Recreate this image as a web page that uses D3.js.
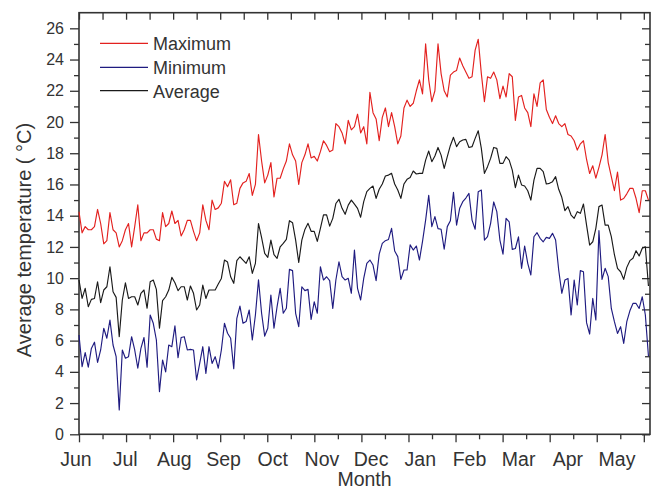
<!DOCTYPE html>
<html>
<head>
<meta charset="utf-8">
<script src="https://cdn.jsdelivr.net/npm/d3@7"></script>
<style>
  body { margin: 0; background: #fff; }
  svg { display: block; }
  text { font-family: "Liberation Sans", Arial, sans-serif; fill: #333; }
</style>
</head>
<body>
<svg id="chart" width="651" height="490"></svg>
<script>
// Month labels along the bottom axis (June through May)
const months = ["Jun", "Jul", "Aug", "Sep", "Oct", "Nov", "Dec", "Jan", "Feb", "Mar", "Apr", "May"];
// Temperature ticks on the vertical axis
const yTickValues = [0, 2, 4, 6, 8, 10, 12, 14, 16, 18, 20, 22, 24, 26];
// Readings are taken every two days, starting on 1 June
const dayStep = 2;

// Daily maximum temperature (°C)
const maximum = [
  14.25, 12.9, 13.3, 13.1, 13.1, 13.3, 14.4, 13.5, 12.2, 12.4,
  14.2, 13.1, 12.9, 12.0, 12.4, 13.1, 13.5, 12.0, 13.3, 14.7,
  12.4, 12.9, 12.9, 13.1, 13.1, 12.5, 12.4, 14.2, 13.3, 13.5,
  14.3, 13.5, 13.7, 12.7, 13.1, 13.7, 13.7, 13.0, 12.4, 12.9,
  14.7, 13.7, 13.1, 15.0, 14.4, 14.5, 14.8, 16.2, 15.85, 16.3,
  14.7, 14.8, 15.75, 16.1, 16.2, 16.7, 15.3, 16.0, 19.2, 17.5,
  16.1, 16.6, 17.4, 15.2, 16.4, 16.4, 17.0, 17.5, 18.6, 17.9,
  17.5, 16.0, 17.4, 17.9, 18.6, 17.7, 17.8, 17.5, 18.1, 18.8,
  18.5, 18.1, 18.2, 19.9, 19.7, 19.3, 18.6, 20.1, 19.5, 19.7,
  20.5, 19.3, 19.7, 18.6, 21.9, 20.6, 20.2, 18.8, 20.3, 20.9,
  19.7, 20.6, 19.7, 18.6, 19.1, 20.9, 21.4, 21.0, 21.2, 22.0,
  22.7, 21.8, 25.0, 22.7, 21.3, 22.0, 25.0, 23.1, 22.0, 21.6,
  23.0, 23.2, 23.3, 24.1, 23.6, 23.2, 22.8, 22.9, 24.6, 25.3,
  23.1, 21.3, 22.9, 22.8, 23.2, 22.7, 21.5, 22.3, 21.6, 23.1,
  22.9, 20.1, 21.6, 21.7, 20.9, 20.6, 19.7, 21.8, 21.0, 22.5,
  22.7, 20.8, 20.3, 19.9, 20.4, 19.9, 19.7, 19.9, 19.2, 19.1,
  18.8, 18.2, 18.6, 18.8, 17.6, 16.7, 17.2, 16.4, 17.1, 17.9,
  19.2, 17.4, 16.5, 15.6, 16.8, 15.0, 15.1, 15.4, 15.75, 15.75,
  15.1, 14.2, 15.6, 15.6, 15.0
];

// Daily minimum temperature (°C)
const minimum = [
  6.36, 4.33, 5.23, 4.3, 5.5, 5.9, 4.6, 5.4, 6.79, 6.15,
  7.31, 5.72, 4.97, 1.56, 5.4, 4.87, 4.97, 6.25, 5.4, 4.23,
  5.5, 6.2, 4.3, 7.64, 7.11, 6.04, 2.73, 4.76, 4.0, 5.72,
  5.61, 6.94, 4.9, 6.2, 6.25, 5.4, 5.44, 5.4, 3.48, 4.54,
  5.61, 3.9, 5.61, 4.54, 4.97, 4.23, 5.4, 7.11, 6.47, 6.15,
  4.2, 7.43, 8.21, 7.11, 7.22, 7.96, 6.04, 7.64, 9.9, 7.75,
  6.29, 6.79, 8.92, 6.79, 8.17, 9.35, 7.75, 8.07, 10.56, 10.48,
  7.75, 6.89, 9.45, 9.2, 9.28, 7.36, 8.49, 7.75, 10.73, 9.88,
  10.09, 9.84, 8.06, 9.88, 11.05, 10.1, 9.88, 9.99, 9.03, 11.8,
  9.35, 8.6, 9.99, 10.95, 11.16, 10.84, 9.84, 11.54, 12.23, 12.4,
  12.48, 13.19, 11.74, 11.38, 9.92, 10.52, 10.52, 12.13, 11.8, 12.06,
  11.16, 12.36, 13.72, 15.3, 13.3, 13.94, 13.17, 13.13, 11.85, 13.3,
  13.68, 15.5, 13.4, 14.47, 14.9, 15.13, 15.43, 13.72, 13.13, 15.54,
  15.64, 12.44, 12.66, 13.51, 14.88, 14.26, 12.44, 11.54, 13.83, 13.61,
  11.84, 11.9, 12.65, 10.63, 12.06, 10.95, 10.2, 12.65, 12.91, 12.55,
  12.33, 12.61, 12.55, 12.87, 12.44, 10.52, 9.03, 9.88, 9.98, 7.64,
  9.88, 8.28, 10.48, 10.41, 7.15, 6.42, 8.7, 7.32, 13.04, 9.92,
  10.63, 10.1, 8.06, 7.21, 6.46, 6.89, 5.82, 7.21, 7.91, 8.38,
  8.38, 8.06, 8.81, 7.64, 5.0
];

// Daily average temperature (°C)
const average = [
  9.88, 8.7, 9.35, 8.17, 8.64, 8.7, 9.77, 8.43, 9.24, 9.45,
  10.73, 9.13, 8.77, 6.25, 8.6, 9.7, 8.7, 8.81, 8.81, 8.28,
  9.03, 9.24, 8.07, 9.77, 9.88, 9.28, 6.79, 8.56, 8.81, 9.24,
  10.05, 9.71, 9.2, 9.45, 9.45, 8.6, 9.5, 9.03, 7.96, 8.28,
  9.56, 8.7, 9.24, 9.24, 9.24, 9.62, 9.98, 11.16, 11.03, 10.09,
  9.67, 11.12, 11.37, 11.16, 10.95, 11.37, 10.31, 10.95, 13.5, 12.6,
  11.59, 11.33, 12.44, 11.5, 11.27, 12.01, 12.23, 12.48, 13.68, 13.55,
  12.44, 11.0, 12.44, 13.12, 13.51, 13.0, 13.0, 12.36, 13.19, 14.05,
  14.05, 13.33, 13.83, 14.78, 15.05, 14.47, 14.09, 14.68, 15.0, 14.74,
  14.47, 13.9, 14.9, 15.54, 15.75, 15.9, 15.11, 15.69, 16.03, 16.54,
  16.6, 16.71, 16.03, 15.65, 15.11, 16.03, 16.33, 16.45, 16.86, 16.67,
  16.71, 16.71, 17.56, 18.14, 17.46, 17.82, 18.37, 17.88, 17.03, 17.78,
  18.5, 19.02, 18.42, 18.74, 18.85, 18.89, 18.37, 18.42, 18.95, 19.44,
  18.31, 16.71, 17.14, 17.67, 18.37, 18.31, 17.35, 17.35, 17.78, 17.56,
  16.92, 15.8, 16.6, 15.97, 15.9, 15.6, 15.0, 16.28, 17.03, 17.03,
  16.82, 16.03, 16.07, 16.18, 16.5, 15.69, 15.18, 14.32, 14.58, 14.04,
  13.83, 14.26, 14.15, 14.75, 13.4, 12.12, 12.33, 13.19, 14.58, 14.68,
  13.4, 13.4, 12.66, 11.5, 10.63, 10.41, 9.92, 10.69, 11.12, 11.27,
  11.76, 11.42, 11.91, 12.01, 9.5
];

const series = [
  { name: "Maximum", values: maximum, color: "#e3211f" },
  { name: "Minimum", values: minimum, color: "#1f1b80" },
  { name: "Average", values: average, color: "#1a1a1a" }
];

const svg = d3.select("#chart");
const plot = { left: 79, right: 650, top: 12.7, bottom: 434.3 };
const monthLen = 365 / 12;
const axisColor = "#333";

const x = d3.scaleLinear().domain([0, 369]).range([plot.left, plot.right]);
const y = d3.scaleLinear().domain([0, 27]).range([plot.bottom, plot.top]);

const majorX = d3.range(0, 13).map(m => m * monthLen);
const minorX = d3.range(0, 12).map(m => (m + 0.5) * monthLen);
const minorY = d3.range(1, 27, 2);

function styleAxis(g) {
  g.select(".domain").remove();
  g.selectAll(".tick line").attr("stroke", axisColor).attr("stroke-width", 1.3);
}

// Bottom axis: major month ticks and half-month minor ticks, pointing outward
svg.append("g").attr("transform", `translate(0,${plot.bottom})`)
  .call(d3.axisBottom(x).tickValues(majorX).tickSize(8).tickFormat(""))
  .call(styleAxis);
svg.append("g").attr("transform", `translate(0,${plot.bottom})`)
  .call(d3.axisBottom(x).tickValues(minorX).tickSize(5).tickFormat(""))
  .call(styleAxis);

// Top axis: ticks pointing into the plot
svg.append("g").attr("transform", `translate(0,${plot.top})`)
  .call(d3.axisTop(x).tickValues(majorX.concat(minorX)).tickSize(-7).tickFormat(""))
  .call(styleAxis);

// Left axis with labels
svg.append("g").attr("transform", `translate(${plot.left},0)`)
  .call(d3.axisLeft(y).tickValues(yTickValues).tickSize(9).tickPadding(6))
  .call(styleAxis)
  .call(g => g.selectAll(".tick text")
    .attr("font-family", "'Liberation Sans', Arial, sans-serif")
    .attr("font-size", 16).attr("fill", axisColor));
svg.append("g").attr("transform", `translate(${plot.left},0)`)
  .call(d3.axisLeft(y).tickValues(minorY).tickSize(5).tickFormat(""))
  .call(styleAxis);

// Right axis: inward ticks only
svg.append("g").attr("transform", `translate(${plot.right},0)`)
  .call(d3.axisRight(y).tickValues(yTickValues).tickSize(-8).tickFormat(""))
  .call(styleAxis);
svg.append("g").attr("transform", `translate(${plot.right},0)`)
  .call(d3.axisRight(y).tickValues(minorY).tickSize(-5).tickFormat(""))
  .call(styleAxis);

// Frame
svg.append("rect")
  .attr("x", plot.left).attr("y", plot.top)
  .attr("width", plot.right - plot.left).attr("height", plot.bottom - plot.top)
  .attr("fill", "none").attr("stroke", axisColor).attr("stroke-width", 1.6);

// Month names under the axis
const labelX = d3.scalePoint().domain(months).range([76, 617]);
svg.append("g").selectAll("text").data(months).join("text")
  .attr("x", d => labelX(d)).attr("y", 465.5)
  .attr("text-anchor", "middle").attr("font-size", 19.5)
  .text(d => d);

// Axis titles
svg.append("text")
  .attr("x", 364.5).attr("y", 485.5)
  .attr("text-anchor", "middle").attr("font-size", 19.5)
  .text("Month");
svg.append("text")
  .attr("transform", "translate(31,240) rotate(-90)")
  .attr("text-anchor", "middle").attr("font-size", 20)
  .text("Average temperature ( °C)");

// Temperature lines
const line = d3.line()
  .x((d, i) => x(i * dayStep))
  .y(d => y(d));

svg.append("g").selectAll("path").data(series).join("path")
  .attr("d", d => line(d.values))
  .attr("fill", "none")
  .attr("stroke", d => d.color)
  .attr("stroke-width", 1.15)
  .attr("stroke-linejoin", "round");

// Legend
const legend = svg.append("g");
const legendRows = [43.3, 67.3, 90.7];
series.forEach((s, k) => {
  legend.append("line")
    .attr("x1", 100).attr("x2", 148)
    .attr("y1", legendRows[k]).attr("y2", legendRows[k])
    .attr("stroke", s.color).attr("stroke-width", 1.2);
  legend.append("text")
    .attr("x", 153).attr("y", legendRows[k] + 7)
    .attr("font-size", 18)
    .text(s.name);
});
</script>
</body>
</html>
